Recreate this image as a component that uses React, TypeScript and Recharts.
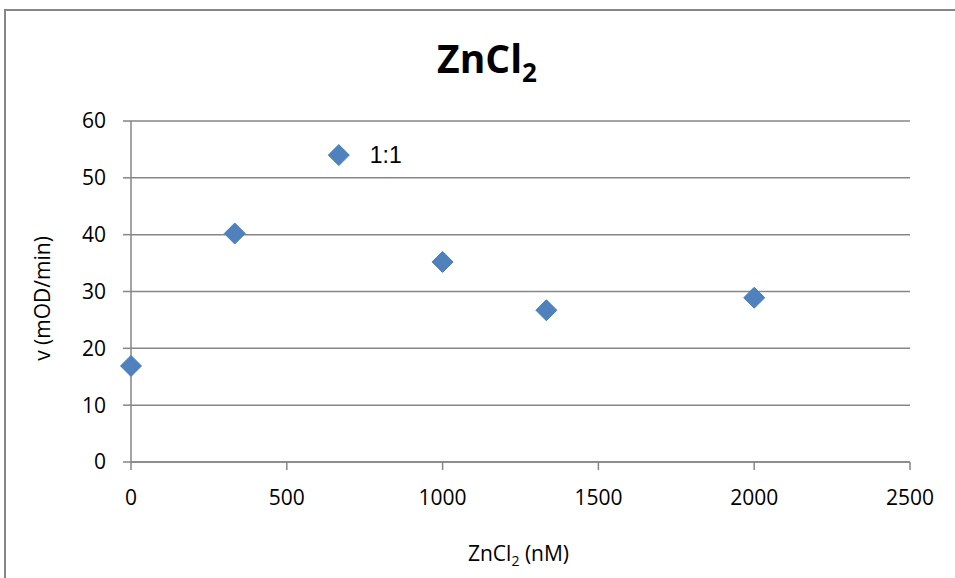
import React from 'react'
import { ScatterChart, Scatter, XAxis, YAxis, CartesianGrid } from 'recharts'

// ZnCl2 concentration (nM) vs rate (mOD/min)
const xValues = [0, 333, 667, 1000, 1333, 2000]
const yValues = [16.9, 40.2, 54.0, 35.2, 26.7, 28.9]
const pointLabels = ['', '', '1:1', '', '', '']

const xTicks = [0, 500, 1000, 1500, 2000, 2500]
const yTicks = [0, 10, 20, 30, 40, 50, 60]

const GREY = '#868686'
const FONT = '"Open Sans", sans-serif'

const data = xValues.map((x, i) => ({ x, y: yValues[i], label: pointLabels[i] }))

// diamond marker, plus the point's text label if it has one
function Diamond(props: any) {
  const { cx, cy, payload } = props
  const r = 10.5
  return (
    <g>
      <polygon
        points={`${cx},${cy - r} ${cx + r},${cy} ${cx},${cy + r} ${cx - r},${cy}`}
        fill="#4F81BD"
        stroke="#4A7EBB"
        strokeWidth={1}
      />
      {payload && payload.label ? (
        <text x={cx + 31} y={cy + 8} fontSize={23} fontFamily='"Liberation Sans", Arial, sans-serif' fill="#000">
          {payload.label}
        </text>
      ) : null}
    </g>
  )
}

function XLabel(props: any) {
  const vb = props.viewBox || { x: 0, y: 0, width: 0, height: 0 }
  return (
    <text x={vb.x + vb.width / 2 - 2} y={vb.y + 99} textAnchor="middle" fontSize={21} fontFamily={FONT} fill="#000">
      ZnCl<tspan dy={5} fontSize={14}>2</tspan>
      <tspan dy={-5}> (nM)</tspan>
    </text>
  )
}

function YLabel(props: any) {
  const vb = props.viewBox || { x: 0, y: 0, width: 0, height: 0 }
  const x = vb.x + 42
  const y = vb.y + vb.height / 2 + 7
  return (
    <text x={x} y={y} textAnchor="middle" dominantBaseline="central" fontSize={21} fontFamily={FONT} fill="#000" transform={`rotate(-90 ${x} ${y})`}>
      v (mOD/min)
    </text>
  )
}

export default function App() {
  return (
    <div style={{ position: 'absolute', left: 0, top: 0, width: 955, height: 578, overflow: 'hidden', background: '#fff' }}>
      {/* chart frame (only top/left edges visible in the crop) */}
      <div style={{ position: 'absolute', left: 4, top: 9, width: 1200, height: 900, border: `2px solid ${GREY}`, boxSizing: 'border-box' }} />

      <svg width={955} height={110} style={{ position: 'absolute', left: 0, top: 0 }}>
        <text x={487} y={73} textAnchor="middle" fontSize={39} fontWeight="bold" fontFamily={FONT} fill="#000">
          ZnCl<tspan dy={9} fontSize={26}>2</tspan>
        </text>
      </svg>

      <div style={{ position: 'absolute', left: 0, top: 0 }}>
        <ScatterChart width={955} height={578} margin={{ top: 121, right: 45, bottom: 0, left: 0 }}>
          <CartesianGrid vertical={false} stroke={GREY} strokeWidth={1.5} />
          <XAxis
            type="number"
            dataKey="x"
            domain={[0, 2500]}
            ticks={xTicks}
            interval={0}
            height={116}
            tickSize={8}
            tickMargin={20}
            axisLine={{ stroke: GREY, strokeWidth: 1.5 }}
            tickLine={{ stroke: GREY, strokeWidth: 1.5 }}
            tick={{ fill: '#000', fontSize: 21, fontFamily: FONT }}
            label={<XLabel />}
          />
          <YAxis
            type="number"
            dataKey="y"
            domain={[0, 60]}
            ticks={yTicks}
            interval={0}
            width={131}
            tickSize={8}
            tickMargin={17}
            axisLine={{ stroke: GREY, strokeWidth: 1.5 }}
            tickLine={{ stroke: GREY, strokeWidth: 1.5 }}
            tick={{ fill: '#000', fontSize: 21, fontFamily: FONT }}
            label={<YLabel />}
          />
          <Scatter data={data} shape={<Diamond />} isAnimationActive={false} />
        </ScatterChart>
      </div>
    </div>
  )
}
